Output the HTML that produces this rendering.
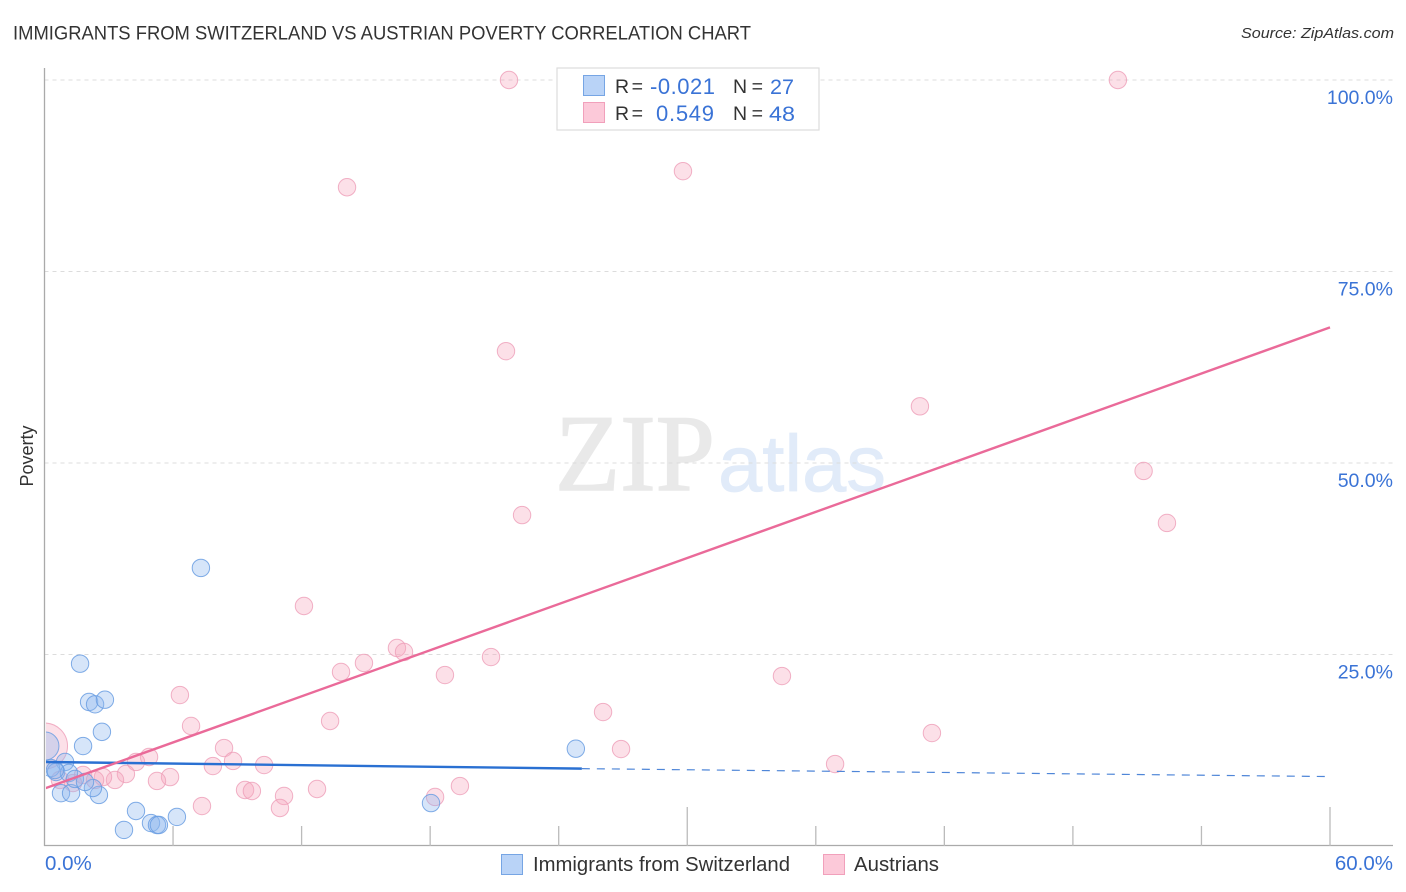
<!DOCTYPE html>
<html lang="en">
<head>
<meta charset="utf-8">
<title>Immigrants from Switzerland vs Austrian Poverty Correlation Chart</title>
<style>
html,body{margin:0;padding:0;background:#fff;}
svg{display:block;font-family:"Liberation Sans",sans-serif;}
</style>
</head>
<body>
<svg id="chart" xmlns="http://www.w3.org/2000/svg" width="1406" height="892" viewBox="0 0 1406 892">
  <defs>
    <clipPath id="plot-clip"><rect x="46" y="60" width="1348" height="786"></rect></clipPath>
  </defs>
  <rect x="0" y="0" width="1406" height="892" fill="#fff"></rect>
  <text x="13" y="39.5" font-size="19" fill="#333" textLength="738" lengthAdjust="spacingAndGlyphs">IMMIGRANTS FROM SWITZERLAND VS AUSTRIAN POVERTY CORRELATION CHART</text>
  <text x="1241" y="38" font-size="15" font-style="italic" fill="#333" textLength="153" lengthAdjust="spacingAndGlyphs">Source: ZipAtlas.com</text>
  <g>
    <text x="555" y="490" font-family="'Liberation Serif',serif" font-size="109" fill="#e9e9e9" stroke="#e9e9e9" stroke-width="1.5" textLength="160" lengthAdjust="spacingAndGlyphs">ZIP</text>
    <text x="718" y="491" font-size="80" fill="#e1ebf9" stroke="#e1ebf9" stroke-width="0.8" textLength="168" lengthAdjust="spacingAndGlyphs">atlas</text>
  </g>
  <g id="grid"></g>
  <g id="points" clip-path="url(#plot-clip)"></g>
  <g id="trends" clip-path="url(#plot-clip)"></g>
  <rect x="0" y="690" width="46" height="120" fill="#fff"></rect>
  <g id="axes">
    <line x1="44.5" y1="68" x2="44.5" y2="846" stroke="#aaa" stroke-width="1.3"></line>
    <line x1="44" y1="845.5" x2="1393" y2="845.5" stroke="#aaa" stroke-width="1.3"></line>
  </g>
  <g id="x-ticks"></g>
  <g id="y-labels"></g>
  <g id="x-labels"></g>
  <text transform="translate(33,456) rotate(-90)" text-anchor="middle" font-size="18" fill="#333">Poverty</text>

  <g>
    <rect x="557" y="68" width="262" height="62" fill="#fff" stroke="#ddd" stroke-width="1.2"></rect>
    <rect x="583.5" y="75.5" width="21" height="20" fill="#b9d3f7" stroke="#76a5e4" stroke-width="1"></rect>
    <rect x="583.5" y="102.5" width="21" height="20" fill="#fcc9d9" stroke="#f1a0bb" stroke-width="1"></rect>
    <text x="615" y="93" font-size="19.5" fill="#333" textLength="28" lengthAdjust="spacing">R =</text>
    <text x="650" y="94" font-size="22" fill="#3a73d6" textLength="65" lengthAdjust="spacing">-0.021</text>
    <text x="733" y="93" font-size="19.5" fill="#333" textLength="30" lengthAdjust="spacing">N =</text>
    <text x="770" y="94" font-size="21.5" fill="#3a73d6" textLength="24" lengthAdjust="spacingAndGlyphs">27</text>
    <text x="615" y="120" font-size="19.5" fill="#333" textLength="28" lengthAdjust="spacing">R =</text>
    <text x="656" y="121" font-size="22" fill="#3a73d6" textLength="58" lengthAdjust="spacing">0.549</text>
    <text x="733" y="120" font-size="19.5" fill="#333" textLength="30" lengthAdjust="spacing">N =</text>
    <text x="769" y="121" font-size="21.5" fill="#3a73d6" textLength="26" lengthAdjust="spacingAndGlyphs">48</text>
  </g>

  <g>
    <rect x="501.5" y="854.5" width="21" height="20" fill="#b9d3f7" stroke="#76a5e4" stroke-width="1"></rect>
    <text x="533" y="871" font-size="20" fill="#333" textLength="257" lengthAdjust="spacingAndGlyphs">Immigrants from Switzerland</text>
    <rect x="823.5" y="854.5" width="21" height="20" fill="#fcc9d9" stroke="#f1a0bb" stroke-width="1"></rect>
    <text x="854" y="871" font-size="20" fill="#333" textLength="85" lengthAdjust="spacingAndGlyphs">Austrians</text>
  </g>
</svg>
<script>
// ---- Chart data (percent values) ----
const xTicks = [0, 6, 12, 18, 24, 30, 36, 42, 48, 54, 60];
const xMajorTicks = [30, 60];
const yGridValues = [100, 75, 50, 25];
const yTickLabels = ["100.0%", "75.0%", "50.0%", "25.0%"];
const xTickValues = [0, 60];
const xTickLabels = ["0.0%", "60.0%"];

const blueX = [7.30,1.66,2.08,2.36,2.82,2.68,1.80,0.02,24.8,18.04,3.71,4.27,4.97,5.25,5.34,6.18,2.54,2.26,0.77,1.24,0.96,0.30,0.54,1.14,1.42,1.89,0.49];
const blueY = [36.3,23.8,18.8,18.5,19.1,14.9,13.05,13.05,12.7,5.6,2.1,4.57,3.0,2.74,2.74,3.8,6.66,7.57,6.9,6.9,10.97,10.18,9.66,9.53,8.75,8.36,9.92];
const blueWeight = [1,1,1,1,1,1,1,2.6,1,1,1,1,1,1,1,1,1,1,1,1,1,1,1,1,1,1,1];

const pinkX = [21.68,50.1,29.8,14.12,21.54,40.86,51.3,22.29,52.39,12.11,16.45,16.78,14.91,20.84,13.84,18.69,34.42,6.32,26.07,13.33,6.84,41.42,26.91,8.38,4.88,8.8,7.86,10.25,4.27,36.9,3.8,3.29,2.73,5.86,5.25,1.8,2.36,1.33,0.72,9.36,9.68,12.72,19.39,18.23,11.18,7.35,10.99,0];
const pinkY = [100,100,88.1,86.0,64.6,57.4,48.96,43.2,42.17,31.33,25.85,25.33,23.89,24.67,22.72,22.32,22.19,19.71,17.49,16.32,15.67,14.75,12.66,12.79,11.62,11.1,10.44,10.57,10.97,10.7,9.4,8.62,9.0,9.0,8.49,9.27,8.62,8.22,8.62,7.31,7.18,7.44,7.83,6.4,6.53,5.22,4.96,13.05];
const pinkWeight = [1,1,1,1,1,1,1,1,1,1,1,1,1,1,1,1,1,1,1,1,1,1,1,1,1,1,1,1,1,1,1,1,1,1,1,1,1,1,1,1,1,1,1,1,1,1,1,7];

const blueTrendX = [0, 25.08];
const blueTrendY = [10.97, 10.1];
const blueDashX = [25.08, 59.8];
const blueDashY = [10.1, 9.07];
const pinkTrendX = [0, 60];
const pinkTrendY = [7.5, 67.7];

// ---- Axis functions ----
function xScale(v) { return 44.5 + (v / 60) * 1285.5; }
function yScale(v) { return 846 - (v / 100) * 766; }

const NS = "http://www.w3.org/2000/svg";
function make(tag, attrs, parent) {
  const el = document.createElementNS(NS, tag);
  for (const k in attrs) el.setAttribute(k, attrs[k]);
  parent.appendChild(el);
  return el;
}

const gridG = document.getElementById("grid");
yGridValues.forEach(function (v) {
  const el = make("line", {x1: 44.5, x2: 1393, y1: yScale(v), y2: yScale(v), stroke: "#dcdcdc", "stroke-width": 1, "stroke-dasharray": "4 4"}, gridG);
  
  
});

const tickG = document.getElementById("x-ticks");
xTicks.forEach(function (v) {
  if (v === 0) return;
  const len = xMajorTicks.indexOf(v) >= 0 ? 39 : 20;
  const el = make("line", {x1: xScale(v), x2: xScale(v), y1: 846, y2: 846 - len, stroke: "#bbb", "stroke-width": 1.3}, tickG);
  
  
});

const yLabG = document.getElementById("y-labels");
yGridValues.forEach(function (v, i) {
  const el = make("text", {x: 1393, y: yScale(v) + 24, "text-anchor": "end", "font-size": 19.5, fill: "#3a73d6"}, yLabG);
  el.textContent = yTickLabels[i];
  
  
});

const xLabG = document.getElementById("x-labels");
xTickValues.forEach(function (v, i) {
  const isLast = i === xTickValues.length - 1;
  const el = make("text", {x: isLast ? 1393 : 45, y: 870, "text-anchor": isLast ? "end" : "start", "font-size": 20.5, fill: "#3a73d6"}, xLabG);
  el.textContent = xTickLabels[i];
  
  
});

const ptsG = document.getElementById("points");
pinkX.forEach(function (v, i) {
  const el = make("circle", {cx: xScale(v), cy: yScale(pinkY[i]), r: 8.7 * Math.sqrt(pinkWeight[i]), fill: "#f7a8c0", "fill-opacity": 0.36, stroke: "#ee9db8", "stroke-opacity": 0.8, "stroke-width": 1}, ptsG);
  
  
});
blueX.forEach(function (v, i) {
  const el = make("circle", {cx: xScale(v), cy: yScale(blueY[i]), r: 8.7 * Math.sqrt(blueWeight[i]), fill: "#8db8ee", "fill-opacity": 0.36, stroke: "#6a9de2", "stroke-opacity": 0.85, "stroke-width": 1}, ptsG);
  
  
});

const trG = document.getElementById("trends");
const dash = make("line", {x1: xScale(blueDashX[0]), y1: yScale(blueDashY[0]), x2: xScale(blueDashX[1]), y2: yScale(blueDashY[1]), stroke: "#4f86d8", "stroke-width": 1.2, "stroke-dasharray": "8 7"}, trG);


const blueLine = make("line", {x1: xScale(blueTrendX[0]), y1: yScale(blueTrendY[0]), x2: xScale(blueTrendX[1]), y2: yScale(blueTrendY[1]), stroke: "#2a70d2", "stroke-width": 2.4}, trG);


const pinkLine = make("line", {x1: xScale(pinkTrendX[0]), y1: yScale(pinkTrendY[0]), x2: xScale(pinkTrendX[1]), y2: yScale(pinkTrendY[1]), stroke: "#ea6a99", "stroke-width": 2.4}, trG);


</script>
</body>
</html>
